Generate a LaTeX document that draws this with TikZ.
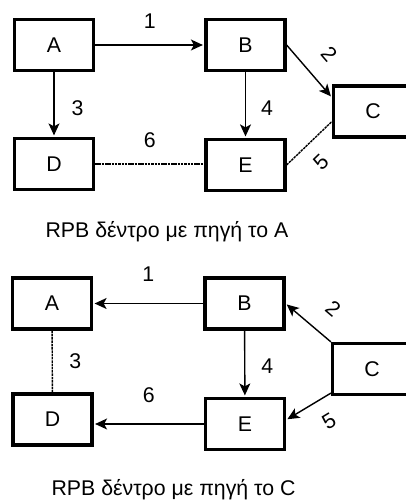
\documentclass[tikz,border=0pt]{standalone}
\usepackage{fontspec}
\setmainfont{Liberation Sans}
\usetikzlibrary{arrows.meta,positioning,calc}

\begin{document}
\begin{tikzpicture}[
    x=1pt, y=1pt,
    every node/.style={font=\fontsize{21.3}{25}\selectfont, inner sep=0pt},
    router/.style={rectangle, draw, line width=3.2pt, minimum width=79pt, minimum height=51pt},
    link/.style={line width=1.4pt, -{Stealth[length=12pt, width=11pt, inset=3pt]}, shorten >=1.5pt},
    tie/.style={line width=1.4pt, dash pattern=on 2.5pt off 0.8pt},
    num/.style={inner sep=0pt}
]
    \useasboundingbox (0,0) rectangle (406,500);

    % tree rooted at A
    \node [router] (a1) at (54,455) {A};
    \node [router] (b1) at (245.5,455) {B};
    \node [router] (c1) at (373,388.5) {C};
    \node [router] (d1) at (54,336) {D};
    \node [router] (e1) at (245.5,335) {E};

    \draw [link] (a1) -- node [num, above=15.5pt] {1} (b1);
    \draw [link] (b1.east) -- node [num, sloped, above=18pt] {2} ([yshift=14pt]c1.west);
    \draw [link] (a1) -- node [num, pos=0.55, right=17pt] {3} (d1);
    \draw [link] (b1) -- node [num, pos=0.55, right=15pt] {4} (e1);
    \draw [tie] (e1.east) -- node [num, sloped, pos=0.42, below=14pt] {5} ([yshift=-10pt]c1.west);
    \draw [tie] (d1.east) -- node [num, above=15.5pt] {6} (d1.east -| e1.west);

    \node [anchor=base west] (cap1) at (45.4,262.7) {RPB δέντρο με πηγή το A};

    % tree rooted at C
    \node [router] (a2) at (52,196.5) {A};
    \node [router] (b2) at (244.5,196.5) {B};
    \node [router] (c2) at (372,131) {C};
    \node [router] (d2) at (52.5,80.5) {D};
    \node [router] (e2) at (245,76) {E};

    \draw [link] (b2) -- node [num, above=21pt] {1} (a2);
    \draw [link] (c2.north west) -- node [num, sloped, pos=0.33, above=18.5pt] {2} (b2.east);
    \draw [tie] (a2) -- node [num, right=16.5pt] {3} (d2);
    \draw [link] (b2) -- node [num, pos=0.53, right=16pt] {4} (e2);
    \draw [link] ([yshift=3pt]c2.south west) -- node [num, sloped, pos=0.31, below=15.3pt] {5} ([yshift=4pt]e2.east);
    \draw [link] (e2.west) -- node [num, above=20.5pt] {6} (e2.west -| d2.east);

    \node [anchor=base west] (cap2) at (51.4,4.8) {RPB δέντρο με πηγή το C};
\end{tikzpicture}
\end{document}
